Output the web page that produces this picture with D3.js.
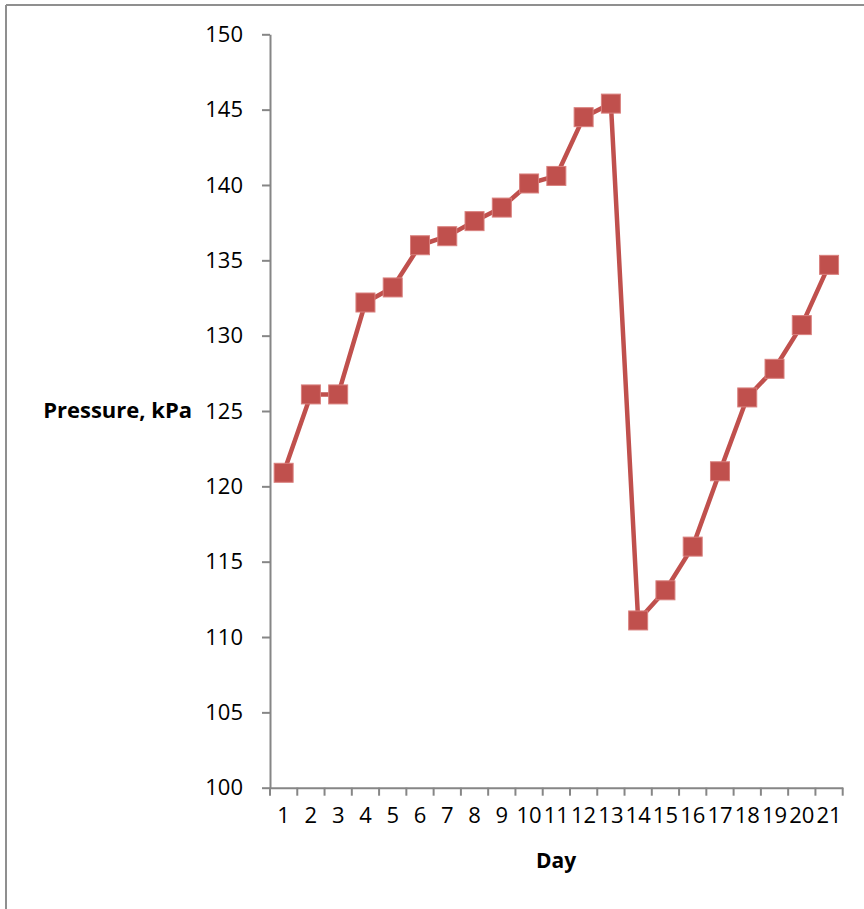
<!DOCTYPE html>
<html>
<head>
<meta charset="utf-8">
<script src="https://cdn.jsdelivr.net/npm/d3@7"></script>
<style>
  html, body { margin: 0; padding: 0; background: #fff; }
  svg { display: block; }
</style>
</head>
<body>
<script>
const days = ["1","2","3","4","5","6","7","8","9","10","11","12","13","14","15","16","17","18","19","20","21"];
const pressure = [120.9,126.1,126.1,132.2,133.2,136.0,136.6,137.6,138.5,140.1,140.6,144.5,145.4,111.1,113.1,116.0,121.0,125.9,127.8,130.7,134.7];
const yTicks = [100,105,110,115,120,125,130,135,140,145,150];
const yTitle = "Pressure, kPa";
const xTitle = "Day";

const W = 864, H = 909;
const svg = d3.select("body").append("svg").attr("width", W).attr("height", H);

// outer chart border (top and left visible)
svg.append("line").attr("x1", 6).attr("x2", W).attr("y1", 5).attr("y2", 5)
  .attr("stroke", "#8f8f8f").attr("stroke-width", 2);
svg.append("line").attr("x1", 6).attr("x2", 6).attr("y1", 5).attr("y2", H)
  .attr("stroke", "#8f8f8f").attr("stroke-width", 2);

const pLeft = 270, pRight = 842.7, pTop = 34.3, pBottom = 787.7;
const x = d3.scaleBand().domain(days).range([pLeft, pRight]).padding(0);
const y = d3.scaleLinear().domain([100, 150]).range([pBottom, pTop]);

const axisColor = "#868686";
const font = "'Open Sans', Lato, sans-serif";

// Y axis
const yAxis = svg.append("g").attr("transform", `translate(${pLeft},0)`)
  .call(d3.axisLeft(y).tickValues(yTicks).tickSize(8).tickPadding(19).tickSizeOuter(0));
yAxis.select(".domain").attr("stroke", axisColor).attr("stroke-width", 2);
yAxis.selectAll(".tick line").attr("stroke", axisColor).attr("stroke-width", 2);
yAxis.selectAll(".tick text").attr("font-family", font).attr("font-size", 22).attr("fill", "#000");

// X axis
const xAxis = svg.append("g").attr("transform", `translate(0,${pBottom})`)
  .call(d3.axisBottom(x).tickSize(0).tickPadding(20).tickSizeOuter(0));
xAxis.select(".domain").attr("stroke", axisColor).attr("stroke-width", 2);
xAxis.selectAll(".tick text").attr("font-family", font).attr("font-size", 22).attr("fill", "#000")
  .attr("dy", "0.71em");
// boundary ticks
const bounds = days.map(d => x(d)).concat([x(days[days.length-1]) + x.bandwidth()]);
xAxis.selectAll(".btick").data(bounds).enter().append("line")
  .attr("x1", d => d).attr("x2", d => d).attr("y1", 0).attr("y2", 8)
  .attr("stroke", axisColor).attr("stroke-width", 2);

// axis titles
svg.append("text").attr("x", 192).attr("y", 418).attr("text-anchor", "end")
  .attr("font-family", font).attr("font-weight", "bold").attr("font-size", 22).text(yTitle);
svg.append("text").attr("x", 556).attr("y", 868).attr("text-anchor", "middle")
  .attr("font-family", font).attr("font-weight", "bold").attr("font-size", 21).text(xTitle);

// line
const cx = d => x(d) + x.bandwidth() / 2;
const line = d3.line().x((d, i) => cx(days[i])).y(d => y(d));
svg.append("path").datum(pressure).attr("d", line)
  .attr("fill", "none").attr("stroke", "#C0504D").attr("stroke-width", 4.5)
  .attr("stroke-linejoin", "round");

// markers
const ms = 19;
svg.selectAll(".mk").data(pressure).enter().append("rect")
  .attr("x", (d, i) => cx(days[i]) - ms / 2).attr("y", d => y(d) - ms / 2)
  .attr("width", ms).attr("height", ms)
  .attr("fill", "#C0504D").attr("stroke", "#d9807e").attr("stroke-width", 1);
</script>
</body>
</html>
